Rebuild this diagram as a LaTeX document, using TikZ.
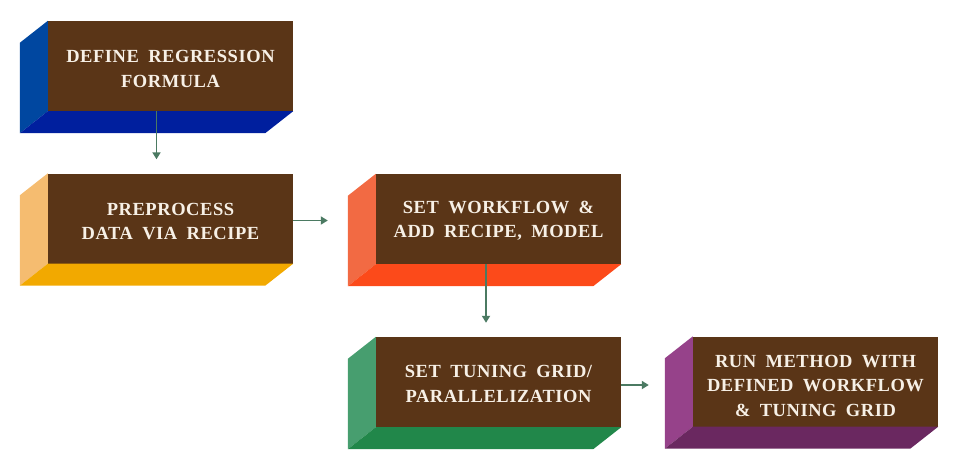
\documentclass[tikz,border=0pt]{standalone}
\usepackage{fontspec}
\setmainfont{Liberation Serif}
\newfontfamily\boxfont[LetterSpace=3,WordSpace=1.8]{Liberation Serif}
\usetikzlibrary{arrows.meta,calc}
\definecolor{brownface}{HTML}{5A3517}
\definecolor{txt}{HTML}{F7F0E6}
\definecolor{conncol}{HTML}{4B7A62}
\definecolor{blueL}{HTML}{0047A0}
\definecolor{blueB}{HTML}{001F9E}
\definecolor{yelL}{HTML}{F5BC70}
\definecolor{yelB}{HTML}{F2A900}
\definecolor{redL}{HTML}{F26A43}
\definecolor{redB}{HTML}{FC4A1A}
\definecolor{grnL}{HTML}{479E6F}
\definecolor{grnB}{HTML}{21874A}
\definecolor{purL}{HTML}{96428A}
\definecolor{purB}{HTML}{6A2860}
\tikzset{
  front/.style={fill=brownface, draw=none, inner sep=0pt, minimum width=245pt, minimum height=90pt,
    align=center, text=txt, font=\boxfont\bfseries\fontsize{18.5}{24.5}\selectfont},
  boxlabel/.style={align=center, text=txt, inner sep=0pt, font=\boxfont\bfseries\fontsize{18.5}{24.5}\selectfont},
  conn/.style={draw=conncol, line width=1.8pt, -{Triangle[length=7pt,width=8pt]}}
}
\newcommand{\extrudebox}[4]{%
  \fill[#2] (#1.north west) -- ++(-28,22) -- ($(#1.south west)+(-28,22)$) -- (#1.south west) -- cycle;
  \fill[#3] (#1.south west) -- (#1.south east) -- ++(-28,22) -- ($(#1.south west)+(-28,22)$) -- cycle;
}
\begin{document}
\begin{tikzpicture}[x=1pt,y=-1pt]
\useasboundingbox (0,0) rectangle (973,475);
\node[front] (n1) at (170.5,66) {};
\node[front] (n2) at (170.5,218.5) {};
\node[front] (n3) at (498.5,219) {};
\node[front] (n4) at (498.5,382) {};
\node[front] (n5) at (815.5,381.5) {};
\node[boxlabel] (t1) at ([yshift=-3pt]n1.center) {DEFINE REGRESSION\\FORMULA};
\node[boxlabel] (t2) at ([yshift=-3pt]n2.center) {PREPROCESS\\DATA VIA RECIPE};
\node[boxlabel] (t3) at ([yshift=-2pt]n3.center) {SET WORKFLOW \&\\ADD RECIPE, MODEL};
\node[boxlabel] (t4) at ([yshift=-2pt]n4.center) {SET TUNING GRID/\\PARALLELIZATION};
\node[boxlabel] (t5) at ([yshift=-4pt]n5.center) {RUN METHOD WITH\\DEFINED WORKFLOW\\\& TUNING GRID};
\extrudebox{n1}{blueL}{blueB}{}
\extrudebox{n2}{yelL}{yelB}{}
\extrudebox{n3}{redL}{redB}{}
\extrudebox{n4}{grnL}{grnB}{}
\extrudebox{n5}{purL}{purB}{}
\draw[conn] ([xshift=-14pt]n1.south) -- ([xshift=-14pt,yshift=14pt]n2.north);
\draw[conn] ([yshift=-2pt]n2.east) -- ([xshift=-48pt,yshift=-2pt]n3.west |- n2.east);
\draw[conn] ([xshift=-12.5pt]n3.south) -- ([xshift=-12.5pt,yshift=14pt]n4.north);
\draw[conn] ([yshift=-3pt]n4.east) -- ([xshift=-44pt,yshift=-3pt]n5.west |- n4.east);
\end{tikzpicture}
\end{document}
